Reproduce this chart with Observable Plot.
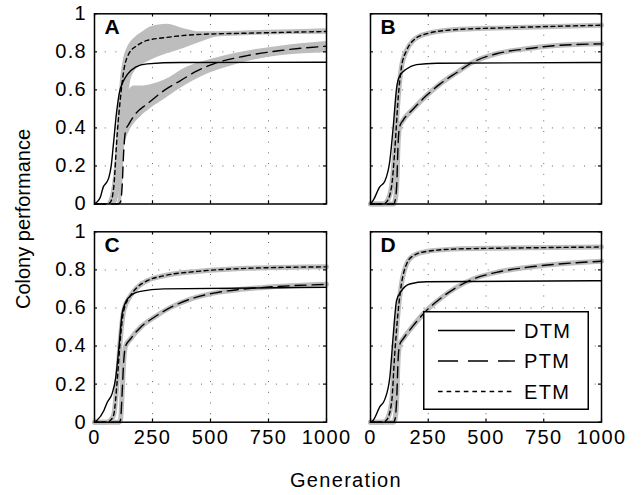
<!DOCTYPE html>
<html><head><meta charset="utf-8">
<script src="https://cdn.jsdelivr.net/npm/d3@7"></script>
<script src="https://cdn.jsdelivr.net/npm/@observablehq/plot@0.6"></script>
<style>
body{margin:0;background:#fff;}
#chart{position:relative;width:644px;height:495px;background:#fff;font-family:"Liberation Sans",Arial,sans-serif;color:#000;}
#chart svg{position:absolute;left:0;top:0;}
.lbl{position:absolute;font-size:20px;white-space:nowrap;line-height:23px;}
</style></head><body><div id="chart"></div>
<script>
// ---- data ----
const xTicks = [0, 250, 500, 750, 1000];
const yTicks = [0, 0.2, 0.4, 0.6, 0.8, 1];
const xGrid = [250, 500, 750];
const yGrid = [0.2, 0.4, 0.6, 0.8];
const seriesNames = ["DTM", "PTM", "ETM"];
const panelNames = ["A", "B", "C", "D"];

const A_DTM = [[0,0],[10,0.01],[25,0.035],[38,0.09],[50,0.11],[62,0.14],[72,0.2],[82,0.32],[95,0.48],[108,0.59],[122,0.64],[141,0.68],[177,0.72],[227,0.737],[370,0.744],[1000,0.745]];
const A_PTM = [[0,0],[100,0],[112,0.01],[119,0.09],[126,0.28],[134,0.386],[148,0.42],[177,0.474],[227,0.526],[299,0.596],[371,0.649],[442,0.70],[514,0.737],[658,0.78],[802,0.807],[1000,0.83]];
const A_ETM = [[0,0],[55,0],[69,0.01],[83,0.09],[98,0.37],[112,0.56],[126,0.70],[148,0.79],[184,0.833],[227,0.86],[299,0.874],[442,0.891],[658,0.898],[1000,0.907]];
const A_ETM_band = [[55,0,0],[75,0,0.08],[90,0,0.25],[100,0.02,0.45],[112,0.1,0.65],[125,0.3,0.76],[141,0.5,0.82],[155,0.64,0.85],[170,0.69,0.87],[213,0.738,0.91],[241,0.755,0.93],[313,0.79,0.945],[385,0.818,0.922],[457,0.85,0.905],[529,0.878,0.905],[650,0.885,0.91],[800,0.89,0.915],[1000,0.893,0.922]];
const A_PTM_band = [[100,0,0],[112,0,0.15],[120,0.05,0.45],[130,0.3,0.55],[150,0.38,0.6],[170,0.42,0.62],[200,0.46,0.62],[250,0.51,0.63],[300,0.55,0.65],[400,0.63,0.72],[500,0.69,0.76],[600,0.73,0.79],[800,0.78,0.83],[1000,0.795,0.855]];

const B_DTM = [[0,0],[12,0.02],[40,0.09],[62,0.12],[84,0.23],[98,0.40],[113,0.61],[127,0.675],[156,0.71],[199,0.733],[286,0.74],[1000,0.744]];
const B_PTM = [[0,0],[100,0],[105,0.01],[113,0.09],[120,0.33],[127,0.41],[141,0.44],[185,0.50],[242,0.57],[300,0.63],[372,0.69],[444,0.746],[545,0.79],[675,0.816],[805,0.833],[1000,0.842]];
const B_ETM = [[0,0],[55,0],[69,0.01],[91,0.09],[105,0.28],[120,0.56],[134,0.72],[156,0.807],[185,0.86],[242,0.895],[358,0.916],[574,0.926],[1000,0.94]];

const C_DTM = [[0,0],[11,0.01],[40,0.06],[55,0.105],[76,0.15],[91,0.23],[105,0.39],[119,0.57],[134,0.63],[155,0.664],[198,0.687],[299,0.70],[1000,0.708]];
const C_PTM = [[0,0],[105,0],[112,0.01],[119,0.15],[126,0.32],[134,0.40],[155,0.437],[198,0.498],[256,0.55],[328,0.603],[414,0.647],[514,0.678],[615,0.696],[730,0.708],[1000,0.724]];
const C_ETM = [[0,0],[55,0],[69,0.01],[83,0.04],[98,0.22],[112,0.446],[126,0.586],[155,0.664],[184,0.708],[227,0.743],[299,0.769],[443,0.792],[658,0.808],[1000,0.816]];

const D_DTM = [[0,0],[12,0.01],[40,0.08],[62,0.12],[84,0.24],[98,0.45],[113,0.64],[134,0.69],[170,0.726],[242,0.738],[1000,0.743]];
const D_PTM = [[0,0],[100,0],[105,0.01],[113,0.11],[120,0.34],[127,0.41],[141,0.437],[185,0.507],[242,0.586],[300,0.647],[372,0.708],[444,0.752],[545,0.787],[675,0.813],[805,0.83],[1000,0.845]];
const D_ETM = [[0,0],[55,0],[69,0.01],[91,0.1],[105,0.36],[120,0.586],[134,0.726],[156,0.83],[185,0.874],[242,0.897],[358,0.909],[574,0.914],[1000,0.92]];

// ---- layout ----
const W = 644, H = 495;
const panels = [
  {name: panelNames[0], dtm: A_DTM, ptm: A_PTM, etm: A_ETM, bands: [A_ETM_band, A_PTM_band], left: 94, top: 13.3, w: 232, h: 190.2, xAxis: false, yAxis: true},
  {name: panelNames[1], dtm: B_DTM, ptm: B_PTM, etm: B_ETM, bands: null, left: 370, top: 13.3, w: 231, h: 190.2, xAxis: false, yAxis: false},
  {name: panelNames[2], dtm: C_DTM, ptm: C_PTM, etm: C_ETM, bands: null, left: 94, top: 231.3, w: 232, h: 190.4, xAxis: true, yAxis: true},
  {name: panelNames[3], dtm: D_DTM, ptm: D_PTM, etm: D_ETM, bands: null, left: 370, top: 231.3, w: 231, h: 190.4, xAxis: true, yAxis: false}
];
const GRAY = "#bdbdbd";
const dashes = {DTM: null, PTM: "11,6", ETM: "4,3.5"};
const chart = document.getElementById("chart");
const X = d => d[0], Y = d => d[1];

for (const p of panels) {
  const marks = [];
  marks.push(Plot.ruleY(yGrid, {stroke: "#666", strokeWidth: 1, strokeDasharray: "1,9.7"}));
  marks.push(Plot.ruleX(xGrid, {stroke: "#666", strokeWidth: 1, strokeDasharray: "1,9.7"}));
  if (p.bands) {
    for (const b of p.bands) marks.push(Plot.areaY(b, {x: X, y1: d => d[1], y2: d => d[2], fill: GRAY, curve: "monotone-x"}));
  } else {
    marks.push(Plot.line(p.ptm, {x: X, y: Y, stroke: GRAY, strokeWidth: 5, curve: "monotone-x"}));
    marks.push(Plot.line(p.etm, {x: X, y: Y, stroke: GRAY, strokeWidth: 5, curve: "monotone-x"}));
  }
  const curves = {DTM: p.dtm, PTM: p.ptm, ETM: p.etm};
  for (const s of seriesNames) {
    const o = {x: X, y: Y, stroke: "black", strokeWidth: 1.4, curve: "monotone-x"};
    if (dashes[s]) o.strokeDasharray = dashes[s];
    marks.push(Plot.line(curves[s], o));
  }
  // inward tick marks on all four sides
  marks.push(Plot.ruleX(xTicks, {y1: 0, y2: 0.017, stroke: "black", strokeWidth: 1.2}));
  marks.push(Plot.ruleX(xTicks, {y1: 1, y2: 0.983, stroke: "black", strokeWidth: 1.2}));
  marks.push(Plot.ruleY(yTicks, {x1: 0, x2: 13, stroke: "black", strokeWidth: 1.2}));
  marks.push(Plot.ruleY(yTicks, {x1: 1000, x2: 987, stroke: "black", strokeWidth: 1.2}));
  marks.push(Plot.frame({stroke: "black", strokeWidth: 1.5}));
  marks.push(Plot.text([p.name], {text: d => d, frameAnchor: "top-left", dx: 10, dy: 5, lineAnchor: "top", textAnchor: "start", fontWeight: "bold", fontSize: 21, fill: "black"}));

  const svg = Plot.plot({
    width: W, height: H,
    marginLeft: p.left, marginRight: W - p.left - p.w,
    marginTop: p.top, marginBottom: H - p.top - p.h,
    x: {domain: [0, 1000], ticks: xTicks, tickSize: 0, tickPadding: 7.5, tickFormat: d => String(d), label: null, axis: p.xAxis ? "bottom" : null},
    y: {domain: [0, 1], ticks: yTicks, tickSize: 0, tickPadding: 7.5, tickFormat: d => String(d), label: null, axis: p.yAxis ? "left" : null},
    style: {background: "transparent", fontFamily: "'Liberation Sans', Arial, sans-serif", fontSize: "20px", letterSpacing: "1.3px", color: "black", overflow: "visible"},
    marks
  });
  svg.querySelectorAll('[aria-label="y-axis"] text').forEach(t => t.setAttribute("dy", "0.53em"));
  chart.appendChild(svg);
}

// axis titles
const ylab = document.createElement("div");
ylab.className = "lbl";
ylab.textContent = "Colony performance";
ylab.style.left = "23px"; ylab.style.top = "219px";
ylab.style.transform = "translate(-50%,-50%) rotate(-90deg)";
chart.appendChild(ylab);

const xlab = document.createElement("div");
xlab.className = "lbl";
xlab.textContent = "Generation";
xlab.style.left = "346px"; xlab.style.top = "469px";
xlab.style.letterSpacing = "1.3px";
xlab.style.transform = "translateX(-50%)";
chart.appendChild(xlab);

// legend (panel D)
const leg = d3.select(chart).append("svg")
  .attr("width", 166).attr("height", 99)
  .style("left", "423px").style("top", "310.5px");
leg.append("rect").attr("x", 0.75).attr("y", 0.75).attr("width", 164.5).attr("height", 97.5)
  .attr("fill", "white").attr("stroke", "black").attr("stroke-width", 1.5);
const legDash = {DTM: null, PTM: "20,10", ETM: "4.6,4"};
seriesNames.forEach((s, i) => {
  const cy = 19.5 + i * 30.5;
  const l = leg.append("line").attr("x1", 15).attr("x2", 92).attr("y1", cy).attr("y2", cy)
    .attr("stroke", "black").attr("stroke-width", 1.4);
  if (legDash[s]) l.attr("stroke-dasharray", legDash[s]);
  leg.append("text").attr("x", 101).attr("y", cy + 7.2).text(s)
    .attr("font-family", "'Liberation Sans', Arial, sans-serif").attr("font-size", 20)
    .attr("letter-spacing", "1.3px").attr("fill", "black");
});
</script></body></html>
